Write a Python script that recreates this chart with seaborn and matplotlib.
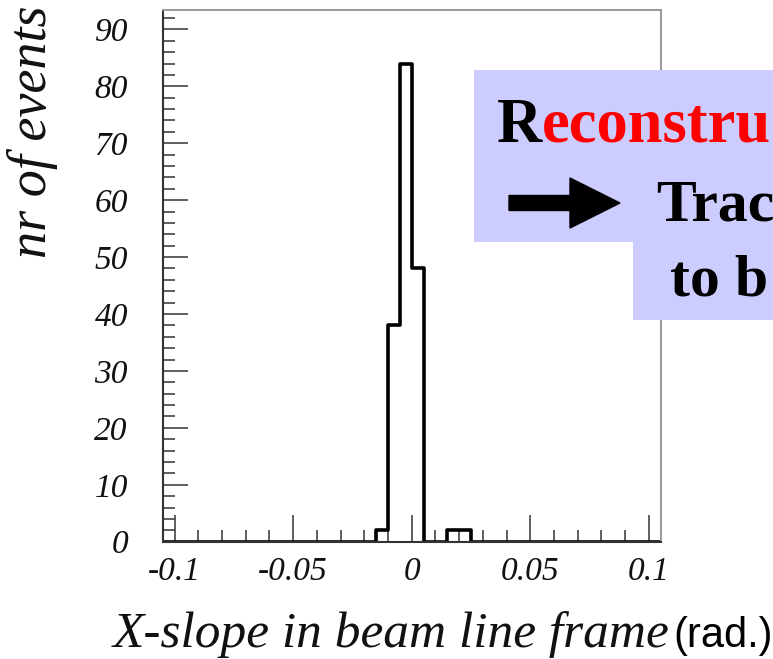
import matplotlib
matplotlib.use("Agg")
import matplotlib.pyplot as plt
import numpy as np
import pandas as pd
import seaborn as sns
from matplotlib.patches import FancyArrow, Rectangle
from matplotlib.text import Annotation
from matplotlib.ticker import MultipleLocator

# histogram: 42 bins of 0.005 rad between -0.105 and 0.105
bin_lo = -0.105
bin_hi = 0.105
bin_width = 0.005
counts = [0, 0, 0, 0, 0, 0, 0, 0, 0, 0,
          0, 0, 0, 0, 0, 0, 0, 0, 2, 38,
          84, 48, 0, 0, 2, 2, 0, 0, 0, 0,
          0, 0, 0, 0, 0, 0, 0, 0, 0, 0,
          0, 0]

x_ticks = [-0.1, -0.05, 0, 0.05, 0.1]
x_ticklabels = ["-0.1", "-0.05", "0", "0.05", "0.1"]
y_ticks = [0, 10, 20, 30, 40, 50, 60, 70, 80, 90]
y_max = 93.4

xlabel = "X-slope in beam line frame"
xunit = "(rad.)"
ylabel = "nr of events"
box_first = "R"
box_rest = "econstru"
box_line2 = "Trac"
box_line3 = "to b"

W, H = 773, 659

sns.set_theme(style="ticks")
plt.rcParams["font.family"] = ["Liberation Serif", "DejaVu Serif"]
plt.rcParams["axes.unicode_minus"] = False

fig = plt.figure(figsize=(W / 100, H / 100), dpi=100)
fig.patch.set_facecolor("white")

# axes frame in pixels: left 163, right 661, top 10, bottom 542
ax = fig.add_axes([162.7 / W, (H - 541.7) / H, (660.7 - 162.7) / W, (541.7 - 10) / H])
ax.set_facecolor("white")

centers = bin_lo + bin_width * (np.arange(len(counts)) + 0.5)
df = pd.DataFrame({"slope": centers, "n": counts})
sns.histplot(data=df, x="slope", weights="n", binwidth=bin_width,
             binrange=(bin_lo, bin_hi), element="step", fill=False,
             color="black", linewidth=2.6, ax=ax)

ax.set_xlim(bin_lo, bin_hi)
ax.set_ylim(0, y_max)
ax.set_xlabel("")
ax.set_ylabel("")

ax.set_xticks(x_ticks)
ax.set_xticklabels(x_ticklabels)
ax.set_yticks(y_ticks)
ax.xaxis.set_minor_locator(MultipleLocator(0.01))
ax.yaxis.set_minor_locator(MultipleLocator(2))

tick_col = "#444444"
ax.tick_params(which="both", direction="in", color=tick_col, width=1.2,
               top=False, right=False, labelcolor="#111111")
ax.tick_params(axis="x", which="major", length=19.5, pad=11)
ax.tick_params(axis="x", which="minor", length=8.6)
ax.tick_params(axis="y", which="major", length=18, pad=25)
ax.tick_params(axis="y", which="minor", length=8.6)
for lab in ax.get_xticklabels() + ax.get_yticklabels():
    lab.set_fontsize(24)
    lab.set_fontstyle("italic")

for side in ["left", "bottom"]:
    ax.spines[side].set_color("#333333")
    ax.spines[side].set_linewidth(1.5)
for side in ["top", "right"]:
    ax.spines[side].set_visible(True)
    ax.spines[side].set_color("#999999")
    ax.spines[side].set_linewidth(1.4)

# axis titles
px = fig.dpi_scale_trans
fig.text(113 / 100, (H - 647) / 100, xlabel, transform=px, fontsize=37,
         fontstyle="italic", va="baseline", ha="left", color="#111111")
fig.text(673 / 100, (H - 647) / 100, xunit, transform=px, fontsize=30,
         family="Liberation Sans", va="baseline", ha="left", color="black")
fig.text(46 / 100, (H - 132) / 100, ylabel, transform=px, fontsize=39,
         fontstyle="italic", rotation=90, rotation_mode="anchor",
         ha="center", va="baseline", color="#111111")

# lavender note box, cut by the right edge of the picture
box_col = "#ccccff"
fig.add_artist(Rectangle((474 / 100, (H - 242) / 100), (W - 474 + 10) / 100, (242 - 70) / 100,
                         transform=px, facecolor=box_col, edgecolor="none", zorder=3))
fig.add_artist(Rectangle((633 / 100, (H - 320) / 100), (W - 633 + 10) / 100, (320 - 241) / 100,
                         transform=px, facecolor=box_col, edgecolor="none", zorder=3))

t1 = fig.text(497 / 100, (H - 142) / 100, box_first, transform=px, fontsize=45,
              fontweight="bold", color="black", va="baseline", ha="left", zorder=4)
fig.add_artist(Annotation(box_rest, xy=(1, 0), xycoords=t1, xytext=(0, 0),
                          textcoords="offset points", fontsize=45,
                          fontweight="bold", color="#ff0000",
                          va="bottom", ha="left", zorder=4))

fig.add_artist(FancyArrow(509 / 100, (H - 203) / 100, (620 - 509) / 100, 0,
                          width=0.15, head_width=0.50, head_length=0.50,
                          length_includes_head=True, color="black",
                          transform=px, zorder=4))
fig.text(656 / 100, (H - 220) / 100, box_line2, transform=px, fontsize=43,
         fontweight="bold", color="black", va="baseline", ha="left", zorder=4)
fig.text(670 / 100, (H - 295) / 100, box_line3, transform=px, fontsize=43,
         fontweight="bold", color="black", va="baseline", ha="left", zorder=4)

fig.savefig("out.png", dpi=100, facecolor="white")
